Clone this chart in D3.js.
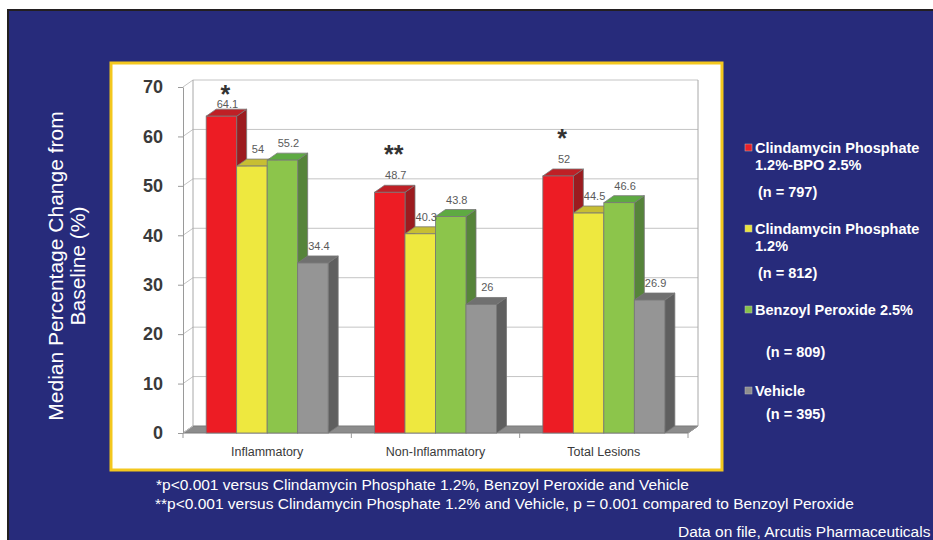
<!DOCTYPE html>
<html>
<head>
<meta charset="utf-8">
<script src="https://cdn.jsdelivr.net/npm/d3@7"></script>
<style>
  body { margin: 0; background: #fff; }
  svg { display: block; }
  text { font-family: "Liberation Sans", Arial, Helvetica, sans-serif; }
</style>
</head>
<body>
<svg id="chart" width="933" height="540"></svg>
<script>
// ---- data ----
const categories = ["Inflammatory", "Non-Inflammatory", "Total Lesions"];
const seriesNames = [
  "Clindamycin Phosphate 1.2%-BPO 2.5%",
  "Clindamycin Phosphate 1.2%",
  "Benzoyl Peroxide 2.5%",
  "Vehicle"
];
const cpBpoValues   = [64.1, 48.7, 52];
const cpValues      = [54, 40.3, 44.5];
const bpoValues     = [55.2, 43.8, 46.6];
const vehicleValues = [34.4, 26, 26.9];
const sampleSizes = [797, 812, 809, 395];
const significance = ["*", "**", "*"];
const yTicks = [0, 10, 20, 30, 40, 50, 60, 70];
const yTitle = ["Median Percentage Change from", "Baseline (%)"];
const legendLines = [
  ["Clindamycin Phosphate", "1.2%-BPO 2.5%"],
  ["Clindamycin Phosphate", "1.2%"],
  ["Benzoyl Peroxide 2.5%"],
  ["Vehicle"]
];
const footnotes = [
  "*p<0.001 versus Clindamycin Phosphate 1.2%, Benzoyl Peroxide and Vehicle",
  "**p<0.001 versus Clindamycin Phosphate 1.2% and Vehicle, p = 0.001 compared to Benzoyl Peroxide"
];
const sourceNote = "Data on file, Arcutis Pharmaceuticals";

const seriesValues = [cpBpoValues, cpValues, bpoValues, vehicleValues];

// ---- styles ----
const faceColors = [
  { front: "#ED1C24", top: "#BF2026", side: "#9C1B1F" },
  { front: "#EEE83F", top: "#C7BE33", side: "#A9A22B" },
  { front: "#8CC54B", top: "#5EAA42", side: "#56843A" },
  { front: "#959595", top: "#707070", side: "#5F5F5F" }
];
const swatchColors = ["#E8202A", "#E9E33C", "#86C24A", "#8E8E8E"];
const navy = "#272B7B";
const DX = 10, DY = -7;   // oblique depth offset of the 3-D look

const svg = d3.select("#chart");

// ---- slide background ----
svg.append("rect").attr("x", 0).attr("y", 0).attr("width", 933).attr("height", 540).attr("fill", "#fff");
svg.append("rect").attr("x", 8).attr("y", 10).attr("width", 940).attr("height", 545)
  .attr("fill", navy).attr("stroke", "#231F20").attr("stroke-width", 2);

// ---- chart panel ----
svg.append("rect").attr("x", 111).attr("y", 63).attr("width", 611).attr("height", 407)
  .attr("fill", "#fff").attr("stroke", "#F3C71E").attr("stroke-width", 3);

// ---- scales ----
const x0 = d3.scaleBand().domain(categories).range([183, 688]);
const bw = x0.bandwidth();
const x1 = d3.scaleBand().domain(seriesNames).range([bw / 2 - 61, bw / 2 + 61]);
const y = d3.scaleLinear().domain([0, 70]).range([433, 87]);

const plot = svg.append("g");
const gridColor = "#C4C4C4";
const xL = x0.range()[0], xR = x0.range()[1];

// floor
plot.append("polygon")
  .attr("points", [[xL, y(0)], [xR, y(0)], [xR + DX, y(0) + DY], [xL + DX, y(0) + DY]].join(" "))
  .attr("fill", "#8C8C8C").attr("stroke", "#7A7A7A").attr("stroke-width", 1);

// back wall gridlines and left-wall diagonals
yTicks.forEach(t => {
  if (t > 0) {
    plot.append("line")
      .attr("x1", xL + DX).attr("x2", xR + DX)
      .attr("y1", y(t) + DY).attr("y2", y(t) + DY)
      .attr("stroke", gridColor).attr("stroke-width", 1);
  }
  plot.append("line")
    .attr("x1", xL).attr("y1", y(t))
    .attr("x2", xL + DX).attr("y2", y(t) + DY)
    .attr("stroke", gridColor).attr("stroke-width", 1);
});
// back wall vertical edges
[xL + DX, xR + DX].forEach(xx => {
  plot.append("line")
    .attr("x1", xx).attr("x2", xx)
    .attr("y1", y(70) + DY).attr("y2", y(0) + DY)
    .attr("stroke", "#A8A8A8").attr("stroke-width", 1);
});
// right front floor corner
plot.append("line").attr("x1", xR).attr("y1", y(0)).attr("x2", xR + DX).attr("y2", y(0) + DY)
  .attr("stroke", "#9A9A9A");

// y axis
const yAxis = plot.append("g").attr("transform", `translate(${xL},0)`)
  .call(d3.axisLeft(y).tickValues(yTicks).tickSize(5).tickSizeOuter(0).tickPadding(15));
yAxis.select(".domain").attr("stroke", "#9A9A9A");
yAxis.selectAll(".tick line").attr("stroke", "#9A9A9A");
yAxis.selectAll(".tick text")
  .attr("font-family", "'Liberation Sans', Arial, sans-serif")
  .attr("font-size", 18).attr("font-weight", "bold").attr("fill", "#3A3A3A");

// x axis: boundary ticks and centred category names
const boundaries = categories.map(c => x0(c)).concat([xR]);
boundaries.forEach(b => {
  plot.append("line").attr("x1", b).attr("x2", b).attr("y1", y(0)).attr("y2", y(0) + 5)
    .attr("stroke", "#9A9A9A");
});
const xAxis = plot.append("g").attr("transform", `translate(0,${y(0) + 10})`)
  .call(d3.axisBottom(x0).tickSize(0).tickPadding(4));
xAxis.select(".domain").remove();
xAxis.selectAll(".tick text")
  .attr("font-family", "'Liberation Sans', Arial, sans-serif")
  .attr("font-size", 12.5).attr("fill", "#3A3A3A");

// ---- 3-D bars ----
categories.forEach((cat, i) => {
  seriesNames.forEach((s, j) => {
    const v = seriesValues[j][i];
    const bx = x0(cat) + x1(s);
    const w = x1.bandwidth();
    const yt = y(v), yb = y(0);
    const c = faceColors[j];
    const g = plot.append("g");
    g.append("polygon")
      .attr("points", [[bx + w, yt], [bx + w + DX, yt + DY], [bx + w + DX, yb + DY], [bx + w, yb]].join(" "))
      .attr("fill", c.side).attr("stroke", "#777").attr("stroke-width", 0.8);
    g.append("polygon")
      .attr("points", [[bx, yt], [bx + DX, yt + DY], [bx + w + DX, yt + DY], [bx + w, yt]].join(" "))
      .attr("fill", c.top).attr("stroke", "#777").attr("stroke-width", 0.8);
    g.append("rect")
      .attr("x", bx).attr("y", yt).attr("width", w).attr("height", yb - yt)
      .attr("fill", c.front).attr("stroke", "#777").attr("stroke-width", 0.8);
  });
});

// value labels (kept clear of the plot's top edge)
categories.forEach((cat, i) => {
  seriesNames.forEach((s, j) => {
    const v = seriesValues[j][i];
    plot.append("text")
      .attr("x", x0(cat) + x1(s) + x1.bandwidth() / 2 + 6)
      .attr("y", Math.max(y(v) - 13, y(70) + 21))
      .attr("text-anchor", "middle")
      .attr("font-size", 11).attr("fill", "#5A5A5A")
      .text(String(v));
  });
});

// significance markers above the combination bar
categories.forEach((cat, i) => {
  const cx = x0(cat) + x1(seriesNames[0]) + x1.bandwidth() / 2 + 4;
  const cy = Math.max(y(cpBpoValues[i]) - 43, y(70) + 2);
  plot.append("text")
    .attr("x", cx).attr("y", cy + 14)
    .attr("text-anchor", "middle")
    .attr("font-size", 25).attr("font-weight", "bold").attr("fill", "#333")
    .text(significance[i]);
});

// ---- y axis title ----
const yTitleG = svg.append("g").attr("transform", "translate(66,266) rotate(-90)");
yTitle.forEach((line, k) => {
  yTitleG.append("text")
    .attr("x", 0).attr("y", -11 + k * 22)
    .attr("text-anchor", "middle").attr("dominant-baseline", "central")
    .attr("font-size", 21).attr("fill", "#fff")
    .text(line);
});

// ---- legend ----
const legendTop = 148, legendStep = 81, lineGap = 17;
const nOffset = [44, 44, 42, 23];
const nIndent = [3, 3, 11, 11];
const legend = svg.append("g");
legendLines.forEach((lines, k) => {
  const ty = legendTop + k * legendStep;
  legend.append("rect")
    .attr("x", 745).attr("y", ty - 4).attr("width", 7).attr("height", 7)
    .attr("fill", swatchColors[k]).attr("stroke", "#BBB").attr("stroke-width", 0.5);
  lines.forEach((ln, m) => {
    legend.append("text")
      .attr("x", 755).attr("y", ty + m * lineGap + 5)
      .attr("font-size", 14.5).attr("font-weight", "bold").attr("fill", "#fff")
      .text(ln);
  });
  legend.append("text")
    .attr("x", 755 + nIndent[k]).attr("y", ty + nOffset[k] + 5)
    .attr("font-size", 14.5).attr("font-weight", "bold").attr("fill", "#fff")
    .text(`(n = ${sampleSizes[k]})`);
});

// ---- footnotes ----
footnotes.forEach((f, k) => {
  svg.append("text")
    .attr("x", 156 - k).attr("y", 489.5 + k * 19)
    .attr("font-size", 15.5).attr("fill", "#fff")
    .text(f);
});
svg.append("text")
  .attr("x", 678).attr("y", 536.5)
  .attr("font-size", 15.5).attr("fill", "#fff")
  .text(sourceNote);
</script>
</body>
</html>
